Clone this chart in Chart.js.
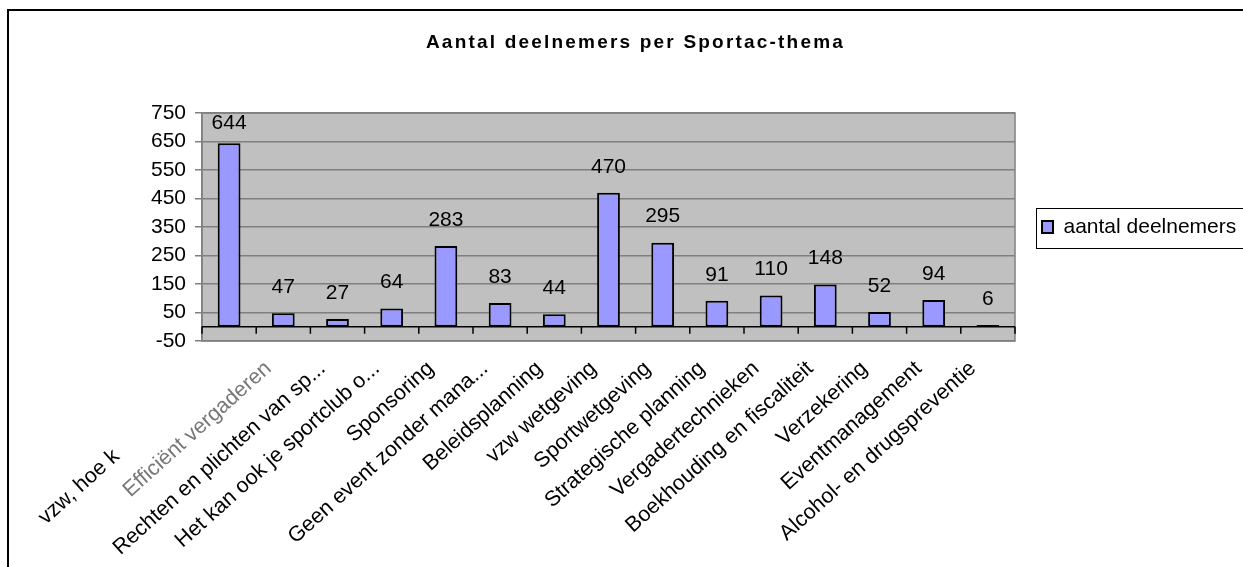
<!DOCTYPE html>
<html>
<head>
<meta charset="utf-8">
<script src="https://cdn.jsdelivr.net/npm/chart.js@4"></script>
<style>
  html, body { margin: 0; padding: 0; background: #fff; }
  #wrap { position: relative; width: 1243px; height: 567px; overflow: hidden; }
  #frame { position: absolute; left: 7px; top: 9px; width: 1300px; height: 600px;
           border-top: 2px solid #000; border-left: 2px solid #000; pointer-events: none; }
</style>
</head>
<body>
<div id="wrap">
  <canvas id="chart" width="1243" height="567"></canvas>
  <div id="frame"></div>
</div>
<script>
const chartTitle = 'Aantal deelnemers per Sportac-thema';
const categories = [
    'vzw, hoe k',
    'Efficiënt vergaderen',
    'Rechten en plichten van sp...',
    'Het kan ook je sportclub o...',
    'Sponsoring',
    'Geen event zonder mana...',
    'Beleidsplanning',
    'vzw wetgeving',
    'Sportwetgeving',
    'Strategische planning',
    'Vergadertechnieken',
    'Boekhouding en fiscaliteit',
    'Verzekering',
    'Eventmanagement',
    'Alcohol- en drugspreventie'
];
const deelnemers = [644, 47, 27, 64, 283, 83, 44, 470, 295, 91, 110, 148, 52, 94, 6];
const yMin = -50;
const yMax = 750;
const yStep = 100;

const FONT = "'Liberation Sans', Arial, sans-serif";

// gray plot area, zero line with category ticks, plot border, value labels, title
const plotArea = {
    id: 'plotArea',
    beforeDraw(chart) {
        const { ctx, chartArea: a } = chart;
        ctx.save();
        ctx.fillStyle = '#c0c0c0';
        ctx.fillRect(a.left, a.top, a.right - a.left, a.bottom - a.top);
        ctx.restore();
    },
    beforeDatasetsDraw(chart) {
        const { ctx, chartArea: a, scales } = chart;
        const x = scales.x, y = scales.y;
        const y0 = y.getPixelForValue(0);
        const half = (x.getPixelForValue(1) - x.getPixelForValue(0)) / 2;
        ctx.save();
        ctx.strokeStyle = '#808080';
        ctx.lineWidth = 1.5;
        ctx.strokeRect(a.left, a.top, a.right - a.left, a.bottom - a.top);
        ctx.strokeStyle = '#000';
        ctx.beginPath();
        ctx.moveTo(a.left, y0);
        ctx.lineTo(a.right, y0);
        for (let i = 0; i <= categories.length; i++) {
            const px = x.getPixelForValue(0) - half + i * half * 2;
            ctx.moveTo(px, y0);
            ctx.lineTo(px, y0 + 7);
        }
        ctx.stroke();
        ctx.restore();
    },
    afterDatasetsDraw(chart) {
        const { ctx, chartArea: a } = chart;
        const meta = chart.getDatasetMeta(0);
        ctx.save();
        ctx.font = '21px ' + FONT;
        ctx.fillStyle = '#000';
        ctx.textAlign = 'center';
        ctx.textBaseline = 'middle';
        meta.data.forEach((bar, i) => {
            const ty = Math.max(bar.y - 26, a.top + 10);
            ctx.fillText(String(deelnemers[i]), bar.x, ty);
        });
        ctx.restore();
    },
    afterDraw(chart) {
        const ctx = chart.ctx;
        // title, Excel-like wide letter spacing
        ctx.save();
        ctx.font = 'bold 19px ' + FONT;
        ctx.letterSpacing = '2.2px';
        ctx.fillStyle = '#000';
        ctx.textAlign = 'center';
        ctx.textBaseline = 'middle';
        ctx.fillText(chartTitle, chart.width / 2 + 14, 43);
        ctx.restore();

        const lg = chart.legend;
        if (!lg || !lg.legendHitBoxes.length) return;
        const hb = lg.legendHitBoxes[0];
        const cy = hb.top + hb.height / 2;
        ctx.save();
        ctx.strokeStyle = '#000';
        ctx.lineWidth = 1;
        ctx.strokeRect(Math.round(hb.left - 6) + 0.5, Math.round(cy - 19) + 0.5, 400, 40);
        ctx.restore();
    }
};

new Chart(document.getElementById('chart'), {
    type: 'bar',
    data: {
        labels: categories,
        datasets: [{
            label: 'aantal deelnemers',
            data: deelnemers,
            backgroundColor: '#9999ff',
            borderColor: '#000',
            borderWidth: 2,
            borderSkipped: false,
            categoryPercentage: 1,
            barPercentage: 0.42
        }]
    },
    options: {
        responsive: false,
        animation: false,
        layout: { padding: { left: 28, right: 0, top: 113, bottom: 0 } },
        plugins: {
            title: { display: false },
            legend: {
                position: 'right',
                fullSize: false,
                maxWidth: 228,
                labels: {
                    color: '#000',
                    font: { family: FONT, size: 21 },
                    boxWidth: 11,
                    boxHeight: 12,
                    padding: 27
                }
            },
            tooltip: { enabled: false }
        },
        scales: {
            x: {
                grid: { display: false },
                border: { display: false },
                ticks: {
                    autoSkip: false,
                    minRotation: 42,
                    maxRotation: 42,
                    padding: 7,
                    labelOffset: -15,
                    color: (c) => c.index === 1 ? '#777777' : '#000',
                    font: { family: FONT, size: 21.5 },
                    callback: function (value, i) {
                        // first label is partly hidden behind the second one in the original
                        const label = categories[i];
                        return i === 0 ? label + '\u00a0'.repeat(22) : label;
                    }
                },
                afterFit(scale) { scale.height = 226; }
            },
            y: {
                min: yMin,
                max: yMax,
                grid: { color: '#7f7f7f', lineWidth: 1.5, tickLength: 7 },
                border: { color: '#808080', width: 1.5 },
                ticks: {
                    stepSize: yStep,
                    padding: 9,
                    color: '#000',
                    font: { family: FONT, size: 21 }
                },
                afterFit(scale) { scale.width = 174; }
            }
        }
    },
    plugins: [plotArea]
});
</script>
</body>
</html>
